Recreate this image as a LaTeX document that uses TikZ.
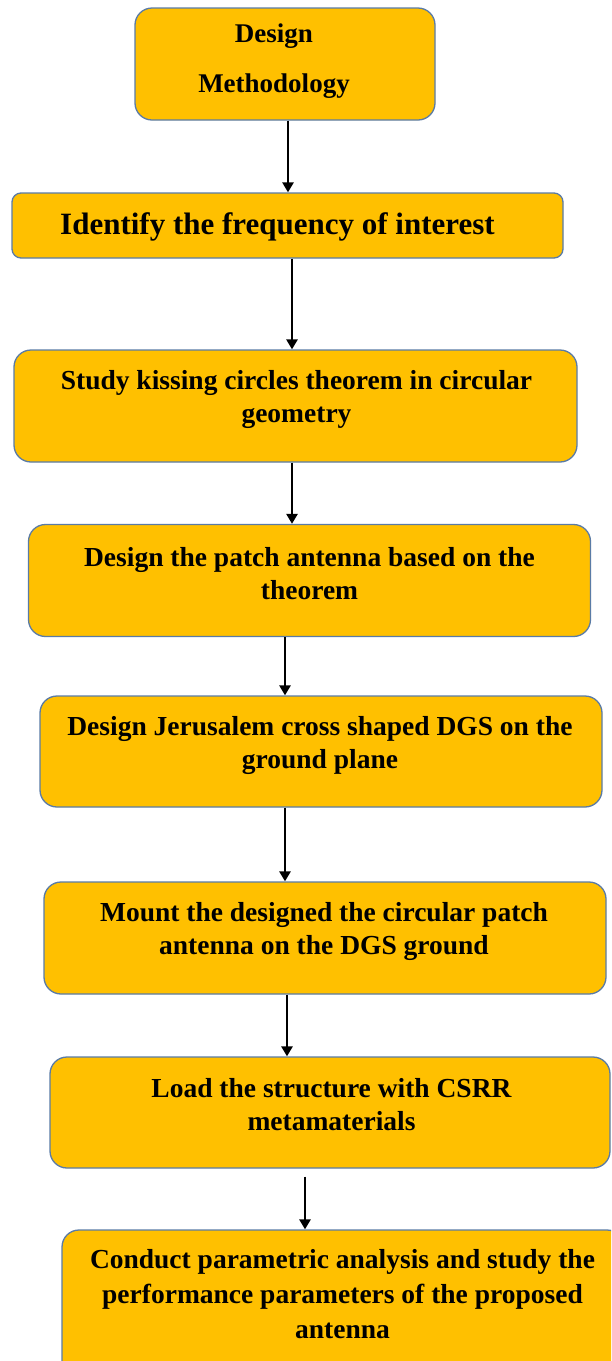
\documentclass[tikz,border=0pt]{standalone}
\usepackage{fontspec}
\setmainfont{Liberation Serif}
\usetikzlibrary{arrows.meta}
\definecolor{boxfill}{HTML}{FFC000}
\definecolor{boxedge}{HTML}{5A7BA6}
\begin{document}
\begin{tikzpicture}[x=1pt,y=-1pt,
  stepbox/.style={draw=boxedge, line width=1.3pt, fill=boxfill, rounded corners=17pt,
    inner sep=0pt, minimum width=#1},
  stepbox/.default=562pt,
  steptext/.style={font=\bfseries\fontsize{27.5}{33}\selectfont, align=center, inner sep=0pt},
  flow/.style={line width=2.7pt, -{Triangle[width=11pt,length=10pt]}}]
\clip (0,0) rectangle (611,1361);
\fill[white] (0,0) rectangle (611,1361);

% process boxes
\node[stepbox=300pt, minimum height=112pt] (b1) at (285,64) {};
\node[stepbox=551pt, minimum height=65pt, rounded corners=9pt] (b2) at (287.5,225.5) {};
\node[stepbox=563pt, minimum height=112pt] (b3) at (295.5,406) {};
\node[stepbox=562pt, minimum height=112pt] (b4) at (309.5,580.5) {};
\node[stepbox=562pt, minimum height=111pt] (b5) at (321,751.5) {};
\node[stepbox=562pt, minimum height=112pt] (b6) at (325,938) {};
\node[stepbox=560pt, minimum height=111pt] (b7) at (330,1112.5) {};
\node[stepbox=562pt, minimum height=150pt] (b8) at (343,1305) {};

% box texts
\node[steptext, font=\bfseries\fontsize{27}{50}\selectfont] (t1) at (274,61) {Design\\Methodology};
\node[steptext, font=\bfseries\fontsize{31}{36}\selectfont] (t2) at (277.5,227) {Identify the frequency of interest};
\node[steptext] (t3) at (296.5,399) {Study kissing circles theorem in circular\\geometry};
\node[steptext] (t4) at (309.5,573.5) {Design the patch antenna based on the\\theorem};
\node[steptext] (t5) at (320,745) {Design Jerusalem cross shaped DGS on the\\ground plane};
\node[steptext] (t6) at (324,931) {Mount the designed the circular patch\\antenna on the DGS ground};
\node[steptext] (t7) at (331.5,1105) {Load the structure with CSRR\\metamaterials};
\node[steptext, font=\bfseries\fontsize{27.5}{35}\selectfont] (t8) at (342.5,1294) {Conduct parametric analysis and study the\\performance parameters of the proposed\\antenna};

% arrow columns
\coordinate (c1) at (288,0);
\coordinate (c2) at (292,0);
\coordinate (c3) at (292,0);
\coordinate (c4) at (285,0);
\coordinate (c5) at (285,0);
\coordinate (c6) at (287,0);
\coordinate (c7) at (305,0);

% connectors
\draw[flow] (b1.south -| c1) -- (b2.north -| c1);
\draw[flow] (b2.south -| c2) -- (b3.north -| c2);
\draw[flow] (b3.south -| c3) -- (b4.north -| c3);
\draw[flow] (b4.south -| c4) -- (b5.north -| c4);
\draw[flow] (b5.south -| c5) -- (b6.north -| c5);
\draw[flow] (b6.south -| c6) -- (b7.north -| c6);
\draw[flow, shorten <=8pt] (b7.south -| c7) -- (b8.north -| c7);
\end{tikzpicture}
\end{document}
